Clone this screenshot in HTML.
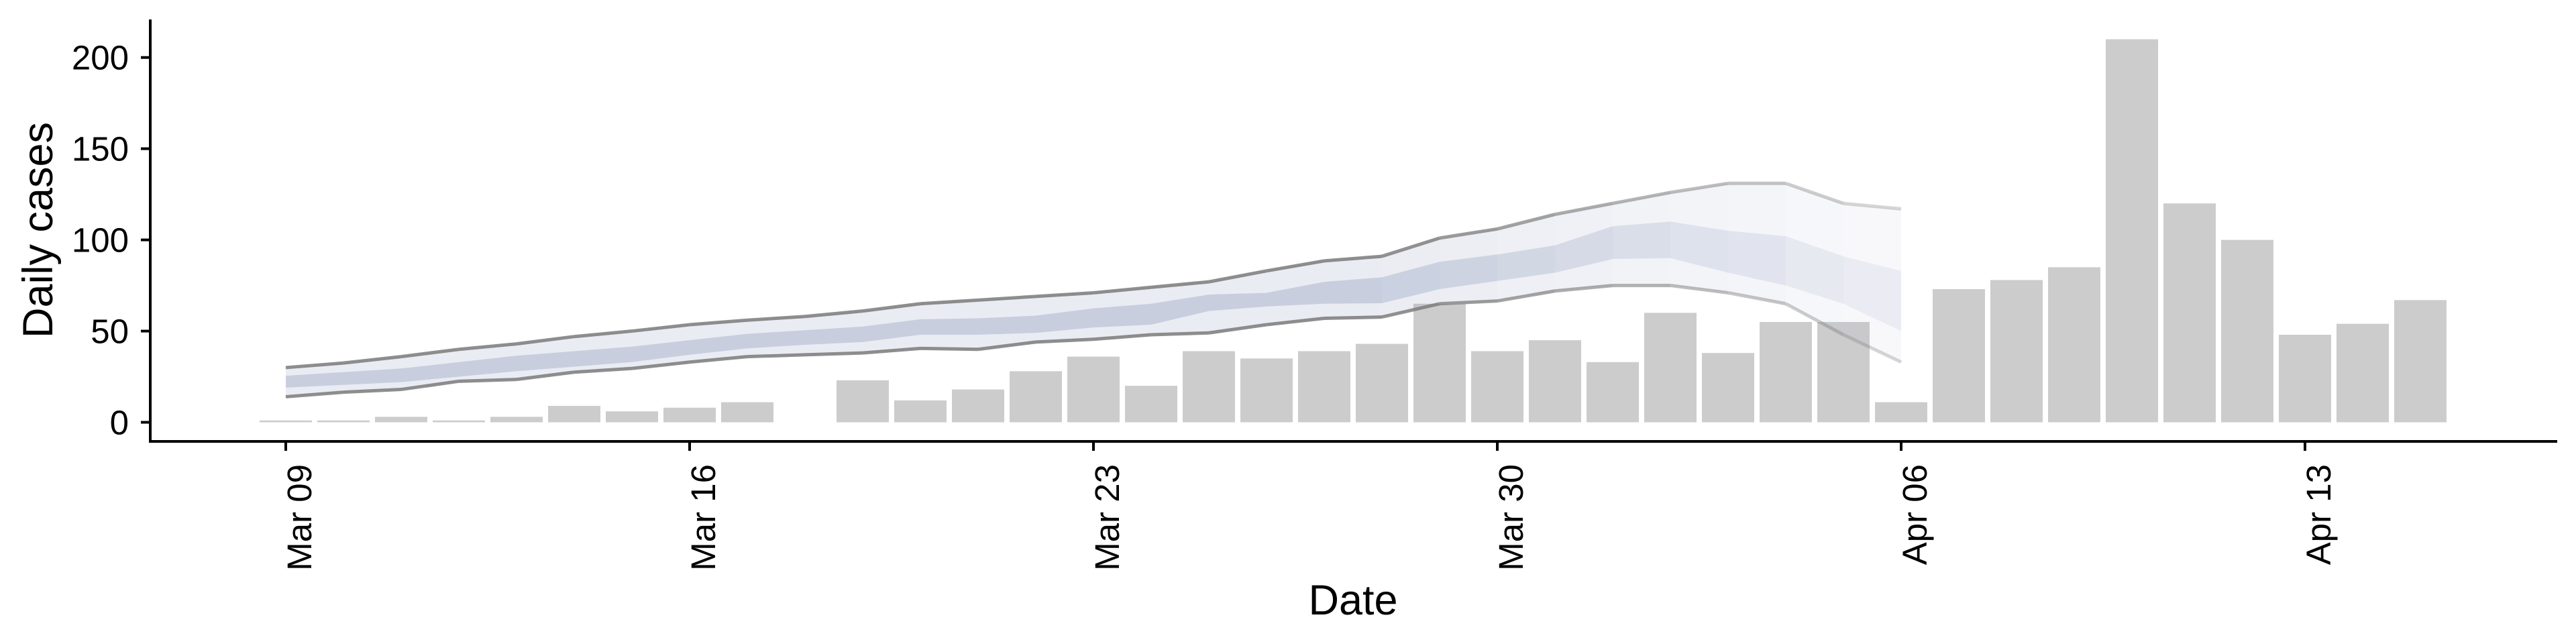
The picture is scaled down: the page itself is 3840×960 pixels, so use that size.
<!DOCTYPE html>
<html><head><meta charset="utf-8"><style>
html,body{margin:0;padding:0;background:#fff}
svg{display:block}
text{font-family:"Liberation Sans",sans-serif;fill:#000}
</style></head><body>
<svg id="chart" width="3840" height="960" viewBox="0 0 3840 960" xmlns="http://www.w3.org/2000/svg">
<g id="bars"></g>
<g id="bands"></g>
<g id="axes"></g>
</svg>
<script>
const cases = [1,1,3,1,3,9,6,8,11,0,23,12,18,28,36,20,39,35,39,43,65,39,45,33,60,38,55,55,11,73,78,85,210,120,100,48,54,67];
const upper90 = [30,32.5,36,40,43,47,50,53.5,56,58,61,65,67,69,71,74,77,83,88.5,91,101,106,114,120,126,131,131,120,117];
const lower90 = [14,16.5,18,22.5,23.5,27.5,29.5,33,36,37,38,40.5,40,44,45.5,48,49,53.5,57,57.7,65,66.5,72,75,75,71,65,48,33];
const upper50 = [25.5,27.5,29.5,33,36.5,39,41.5,45,48.5,50.5,52.5,56.5,57,58.5,62.5,65,70,71,77,79.5,88,92,97,107.5,110,105,102,91,83];
const lower50 = [19,20.5,22,25,28,30.5,33,37,40.5,42.5,44,48,48,49,52,53.5,61,63.5,65,65.3,73,77.5,82,89.5,90,82,75,65,50];
const yTicks = [0,50,100,150,200];
const xTickLabels = ["Mar 09","Mar 16","Mar 23","Mar 30","Apr 06","Apr 13"];
const xTickDays = [0,7,14,21,28,35];

const NS="http://www.w3.org/2000/svg";
const x = d => 426 + d*86;
const y = v => 629.5 - v*2.719;
function mk(tag, parent, attrs){const e=document.createElementNS(NS,tag);for(const k in attrs)e.setAttribute(k,attrs[k]);parent.appendChild(e);return e;}

const gb=document.getElementById('bars');
cases.forEach((v,i)=>{
  if(v<=0) return;
  const r=mk('rect',gb,{x:x(i)-39,y:y(v),width:78,height:y(0)-y(v),fill:'#cccccc'});
  
  
});

const gbd=document.getElementById('bands');
const n=upper90.length;
const fade=i=>{const m=(i+0.5); return m<=19?1:Math.max(0.3,1-(m-19)*0.075);};
for(let i=0;i<n-1;i++){
  const f=fade(i);
  const o=mk('polygon',gbd,{points:`${x(i)},${y(upper90[i])} ${x(i+1)},${y(upper90[i+1])} ${x(i+1)},${y(lower90[i+1])} ${x(i)},${y(lower90[i])}`,fill:'rgb(160,170,200)','fill-opacity':0.22*f});
  
  
  const p=mk('polygon',gbd,{points:`${x(i)},${y(upper50[i])} ${x(i+1)},${y(upper50[i+1])} ${x(i+1)},${y(lower50[i+1])} ${x(i)},${y(lower50[i])}`,fill:'rgb(120,135,175)','fill-opacity':0.29*f});
  
  
  [upper90,lower90].forEach((arr,k)=>{
    const l=mk('line',gbd,{x1:x(i),y1:y(arr[i]),x2:x(i+1),y2:y(arr[i+1]),stroke:'#7a7a7a','stroke-opacity':0.85*f,'stroke-width':5,'stroke-linecap':'butt'});
    
    
  });
}

const ga=document.getElementById('axes');
const ya=mk('line',ga,{x1:224,y1:29,x2:224,y2:660,stroke:'#000','stroke-width':4});


const xa=mk('line',ga,{x1:222,y1:658,x2:3812,y2:658,stroke:'#000','stroke-width':4});


yTicks.forEach(v=>{
  const t=mk('line',ga,{x1:210,y1:y(v),x2:224,y2:y(v),stroke:'#000','stroke-width':4});
  
  
  const tx=mk('text',ga,{x:192,y:y(v)+18,'text-anchor':'end','font-size':51});
  tx.textContent=v;
  
  
});
xTickDays.forEach((d,i)=>{
  const t=mk('line',ga,{x1:x(d),y1:658,x2:x(d),y2:672,stroke:'#000','stroke-width':4});
  
  
  const tx=mk('text',ga,{x:0,y:0,'text-anchor':'end','font-size':51,transform:`translate(${x(d)+38},692) rotate(-90)`});
  tx.textContent=xTickLabels[i];
  
  
});
const yt=mk('text',ga,{x:0,y:0,'text-anchor':'middle','font-size':63,transform:'translate(78,343) rotate(-90)'});
yt.textContent='Daily cases';


const xt=mk('text',ga,{x:2017,y:916,'text-anchor':'middle','font-size':63});
xt.textContent='Date';


</script>
</body></html>
